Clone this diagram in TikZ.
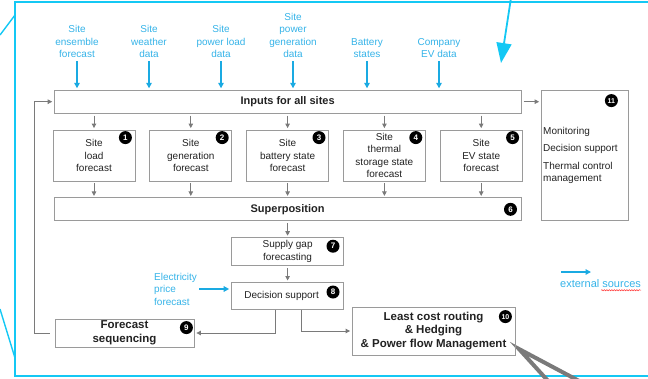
\documentclass[tikz,border=0pt]{standalone}
\usepackage{fontspec}
\setmainfont{Liberation Sans}
\usetikzlibrary{arrows.meta, positioning, decorations.pathmorphing}
\definecolor{cyanframe}{HTML}{14C8F4}
\definecolor{cyantext}{HTML}{35B3E8}
\definecolor{cyanarrow}{HTML}{1AAAE2}
\definecolor{boxgray}{HTML}{9A9A9A}
\definecolor{arrowgray}{HTML}{7A7A7A}
\definecolor{ink}{HTML}{222222}

\begin{document}
\begin{tikzpicture}[x=1pt, y=-1pt,
      font=\fontsize{10}{12.5}\selectfont, text=ink,
      site/.style={draw=boxgray, line width=0.8pt, align=center, inner sep=1pt,
                   minimum width=82pt, minimum height=51pt},
      bar/.style={draw=boxgray, line width=0.8pt,
                  minimum width=467pt, minimum height=23pt,
                  font=\fontsize{11}{13.5}\selectfont\bfseries},
      stage/.style={draw=boxgray, line width=0.8pt, align=center, inner sep=1pt},
      badge/.style={circle, fill=black, text=white, inner sep=0pt, minimum size=13pt,
                    font=\fontsize{8}{8}\selectfont\bfseries},
      ext/.style={text=cyantext, align=center, inner sep=1pt},
      arrow/.style={-{Triangle[width=4.5pt, length=4.5pt]}, draw=arrowgray,
                    line width=0.8pt, shorten <=2pt, shorten >=1.5pt},
      extarrow/.style={-{Triangle[width=5.5pt, length=5.5pt]}, draw=cyanarrow,
                       line width=1.3pt} ]

    \useasboundingbox (0,0) rectangle (648,378);

    % screenshot frame
    \draw[cyanframe, line width=1.6pt] (648,2) -- (15,2) -- (15,376) -- (648,376);
    \draw[cyanframe, line width=1.4pt] (0,35) -- (15,15);
    \draw[cyanframe, line width=1.4pt] (0,309) -- (15,358);
    \draw[cyanframe, line width=1.8pt, -{Triangle[width=15pt, length=20pt]}]
      (511,-2) -- (501,63);
    \draw[arrowgray, line width=4pt] (549,382) -- (519,349) -- (581,382);

    % external sources
    \node[ext, anchor=south] (ens)  at (77,59)  {Site\\ensemble\\forecast};
    \node[ext, anchor=south] (wea)  at (149,59) {Site\\weather\\data};
    \node[ext, anchor=south] (pload) at (221,59) {Site\\power load\\data};
    \node[ext, anchor=south] (pgen) at (293,59) {Site\\power\\generation\\data};
    \node[ext, anchor=south] (batt) at (367,59) {Battery\\states};
    \node[ext, anchor=south] (evd)  at (439,59) {Company\\EV data};

    % site forecasts
    \node[site] (sload) at (94,155.5) {Site\\load\\forecast};
    \node[site, right=14pt of sload] (sgen) {Site\\generation\\forecast};
    \node[site, right=14pt of sgen]  (sbat) {Site\\battery state\\forecast};
    \node[site, right=14pt of sbat]  (sther) {Site\\thermal\\storage state\\forecast};
    \node[site, right=14pt of sther] (sev) {Site\\EV state\\forecast};

    \node[bar, above=16pt of sbat] (inputs) {Inputs for all sites};
    \node[bar, below=16pt of sbat] (super) {Superposition};

    \node[draw=boxgray, line width=0.8pt, minimum width=87pt, minimum height=130pt]
      (mon) at (584.5,155) {};
    \node[anchor=north west, align=left, inner sep=0pt] (montxt) at (543,127)
      {Monitoring\\[5pt]Decision support\\[5pt]Thermal control\\management};

    \node[stage, minimum width=112pt, minimum height=28pt, below=16pt of super]
      (gap) {Supply gap\\forecasting};
    \node[stage, minimum width=112pt, minimum height=27pt, below=16pt of gap]
      (dec) {Decision support\hspace*{12pt}};
    \node[ext, align=left, anchor=west] (eprice) at (153,289)
      {Electricity\\price\\forecast};

    \node[stage, minimum width=139pt, minimum height=28pt,
          font=\fontsize{11.5}{14}\selectfont\bfseries] (fseq) at (124.5,333)
      {Forecast\\sequencing};
    \node[stage, minimum width=163pt, minimum height=48pt,
          font=\fontsize{11.5}{13.5}\selectfont\bfseries] (lcr) at (433.5,331)
      {Least cost routing\\\& Hedging\\\& Power flow Management};

    % numbers
    \node[badge] (n1) at ([shift={(-10,8)}]sload.north east) {1};
    \node[badge] (n2) at ([shift={(-10,8)}]sgen.north east) {2};
    \node[badge] (n3) at ([shift={(-10,8)}]sbat.north east) {3};
    \node[badge] (n4) at ([shift={(-10,8)}]sther.north east) {4};
    \node[badge] (n5) at ([shift={(-10,8)}]sev.north east) {5};
    \node[badge] (n6) at ([shift={(-11,0)}]super.east) {6};
    \node[badge] (n7) at ([shift={(-11,9)}]gap.north east) {7};
    \node[badge] (n8) at ([shift={(-11,10)}]dec.north east) {8};
    \node[badge] (n9) at ([shift={(-8,9)}]fseq.north east) {9};
    \node[badge, font=\fontsize{7}{7}\selectfont\bfseries]
      (n10) at ([shift={(-10,10)}]lcr.north east) {10};
    \node[badge, font=\fontsize{7}{7}\selectfont\bfseries]
      (n11) at ([shift={(-17,11)}]mon.north east) {11};

    % legend
    \coordinate (leg) at (561,272);
    \node[ext, anchor=west, font=\fontsize{11}{13}\selectfont] (legtxt) at (559,284)
      {external sources};

    \draw[extarrow, shorten <=2pt, shorten >=1.5pt] (ens)  -- (ens |- inputs.north);
    \draw[extarrow, shorten <=2pt, shorten >=1.5pt] (wea)  -- (wea |- inputs.north);
    \draw[extarrow, shorten <=2pt, shorten >=1.5pt] (pload) -- (pload |- inputs.north);
    \draw[extarrow, shorten <=2pt, shorten >=1.5pt] (pgen) -- (pgen |- inputs.north);
    \draw[extarrow, shorten <=2pt, shorten >=1.5pt] (batt) -- (batt |- inputs.north);
    \draw[extarrow, shorten <=2pt, shorten >=1.5pt] (evd)  -- (evd |- inputs.north);

    \draw[arrow] (sload |- inputs.south) -- (sload);  \draw[arrow] (sload) -- (sload |- super.north);
    \draw[arrow] (sgen |- inputs.south)  -- (sgen);   \draw[arrow] (sgen)  -- (sgen |- super.north);
    \draw[arrow] (sbat |- inputs.south)  -- (sbat);   \draw[arrow] (sbat)  -- (sbat |- super.north);
    \draw[arrow] (sther |- inputs.south) -- (sther);  \draw[arrow] (sther) -- (sther |- super.north);
    \draw[arrow] (sev |- inputs.south)   -- (sev);    \draw[arrow] (sev)   -- (sev |- super.north);
    \draw[arrow] (inputs.east) -- (inputs.east -| mon.west);
    \draw[arrow] (super) -- (gap);
    \draw[arrow] (gap) -- (dec);
    \draw[extarrow, shorten <=1pt, shorten >=2pt] (eprice.east) -- (eprice.east -| dec.west);
    \draw[arrow, shorten <=0pt, shorten >=2pt] ([xshift=-12pt]dec.south) |- (fseq.east);
    \draw[arrow, shorten <=0pt] ([xshift=14pt]dec.south) |- (lcr.west);
    \draw[arrow, shorten <=0pt] ([xshift=-5pt]fseq.west) -- ++(-15,0) |- (inputs.west);

    \draw[extarrow] (leg) -- ++(30,0);
    \draw[red!80, line width=0.5pt, decorate,
          decoration={snake, amplitude=0.6pt, segment length=2.5pt}]
      ([xshift=-41pt, yshift=-1pt]legtxt.south east) -- ([xshift=-1pt, yshift=-1pt]legtxt.south east);
  \end{tikzpicture}
\end{document}
